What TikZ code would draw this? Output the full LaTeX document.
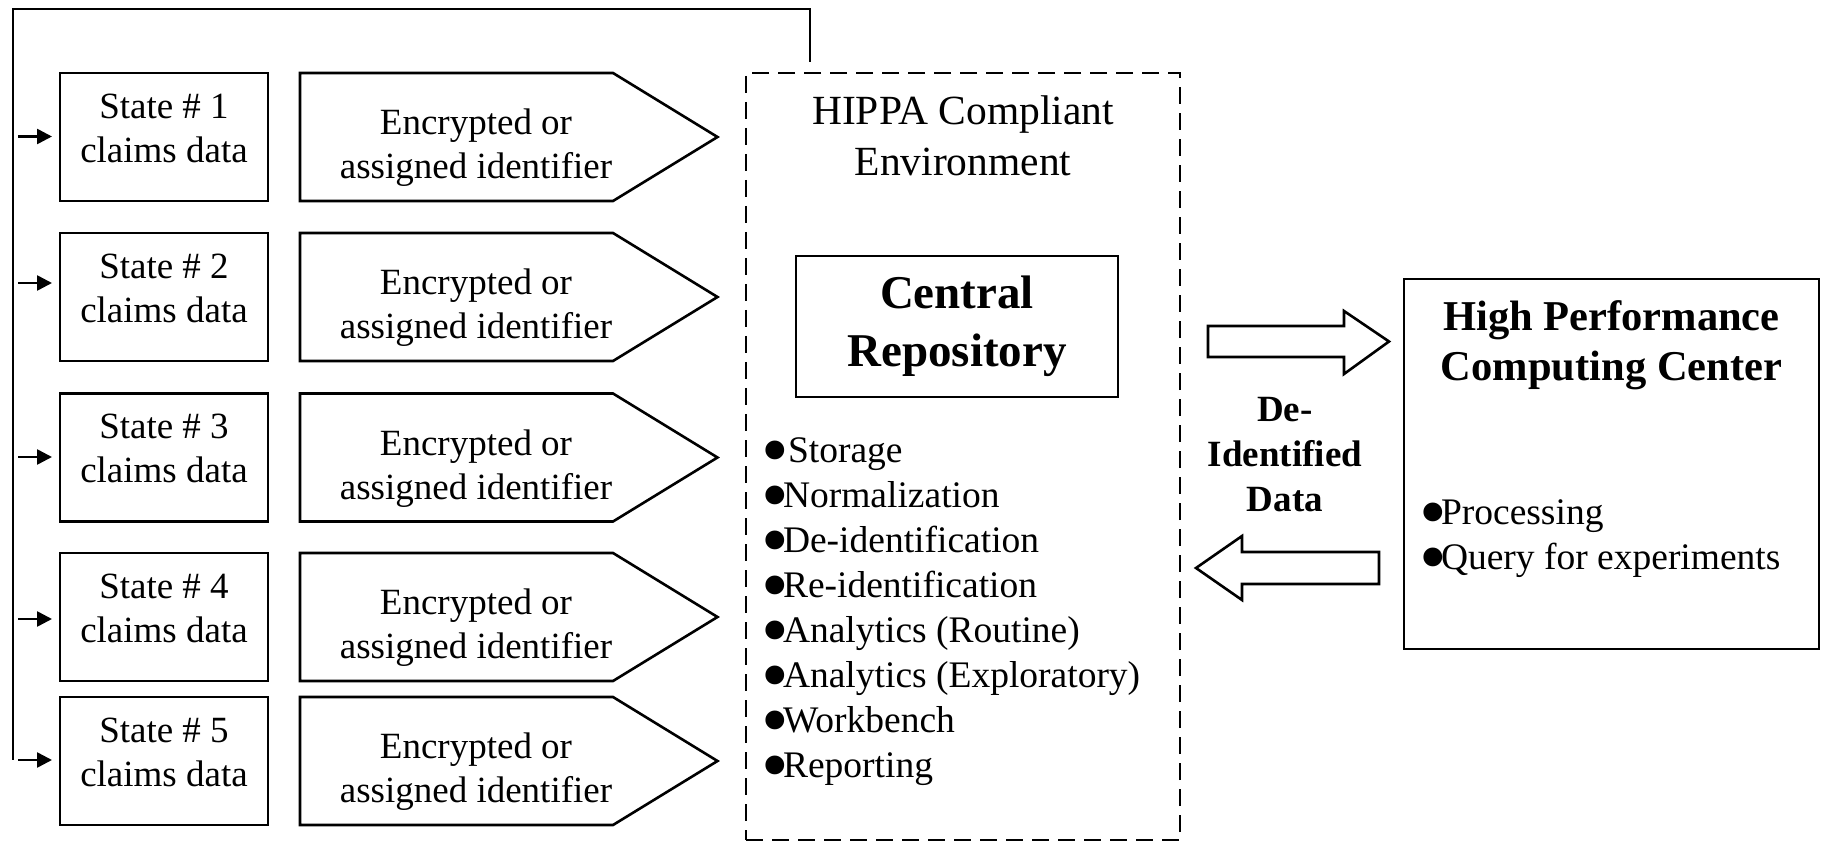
\documentclass[tikz,border=0pt]{standalone}
\usepackage{fontspec}
\usepackage{graphicx}
\setmainfont{Liberation Serif}
\usetikzlibrary{arrows.meta,calc}
\newcommand{\bigbul}{\makebox[16pt][c]{\raisebox{-14pt}[0pt][0pt]{\scalebox{2.1}{•}}}}
\begin{document}
\begin{tikzpicture}[x=1pt,y=-1pt,line join=miter,
  every node/.style={inner sep=0pt,outer sep=0pt},
  lw/.style={line width=2.6pt},
  statebox/.style={draw,lw,minimum width=208pt,minimum height=128pt},
  encbody/.style={minimum width=313pt,minimum height=128pt},
  normtext/.style={align=center,font=\fontsize{37}{44}\selectfont},
  listtext/.style={anchor=base west,font=\fontsize{37.5}{44}\selectfont},
  feedarrow/.style={line width=2.6pt,-{Triangle[length=15pt,width=15pt]},shorten >=8pt,shorten <=5pt},
  dashbox/.style={draw,lw,dash pattern=on 17pt off 9pt,minimum width=434pt,minimum height=767pt},
  blockarrow/.style={draw,lw,fill=white},
]
\useasboundingbox (0,0) rectangle (1821,842);

% feedback line
\coordinate (fbR) at (810,62);
\coordinate (fbRT) at (810,9);
\coordinate (fbLT) at (13,9);
\coordinate (fbLB) at (13,760);
\draw[lw] (fbR) -- (fbRT) -- (fbLT) -- (fbLB);

% rows
\foreach \i/\c/\a in {1/137/136.5,2/297/283,3/457.5/457,4/617/619,5/761/760} {
  \node[statebox] (s\i) at (164,\c) {};
  \node[normtext] (st\i) at ($(s\i.center)+(0,-9)$) {State \# \i\\claims data};
  \node[encbody] (e\i) at (456.5,\c) {};
  \draw[lw] (e\i.north west) -- (e\i.north east) -- ($(e\i.east)+(104.5,0)$) -- (e\i.south east) -- (e\i.south west) -- cycle;
  \node[normtext] (et\i) at ($(e\i.center)+(19.5,11)$) {Encrypted or\\assigned identifier};
  \coordinate (fa\i) at (13,\a);
  \draw[feedarrow] (fa\i) -- (s\i.west |- fa\i);
}

% HIPPA environment
\node[dashbox] (hip) at (963,456.5) {};
\node[align=center,font=\fontsize{41.5}{51}\selectfont] (hipt) at (963,135.4) {HIPPA Compliant\\Environment};
\node[draw,lw,minimum width=322pt,minimum height=141pt,align=center,font=\fontsize{47}{58}\selectfont\bfseries] (cr) at (957,326.5) {Central\\Repository};
\foreach \t [count=\k] in {\hspace{5pt}Storage,Normalization,De-identification,Re-identification,Analytics (Routine),Analytics (Exploratory),Workbench,Reporting} {
  \node[listtext] (cl\k) at (767,{417+45*\k}) {\bigbul\t};
}

% block arrows
\draw[blockarrow] (1208,326) -- (1344,326) -- (1344,311) -- (1389,341.5) -- (1344,374) -- (1344,357) -- (1208,357) -- cycle;
\draw[blockarrow] (1379,552) -- (1242,552) -- (1242,536) -- (1196,568) -- (1242,600) -- (1242,584) -- (1379,584) -- cycle;
\node[align=center,font=\fontsize{37}{45}\selectfont\bfseries] (did) at (1285,455) {De-\\Identified\\Data};

% HPC
\node[draw,lw,minimum width=415pt,minimum height=370pt] (hpc) at (1611.5,464) {};
\node[align=center,font=\fontsize{42.5}{50}\selectfont\bfseries] (hpct) at (1611.5,345) {High Performance\\Computing Center};
\node[listtext] (hb1) at (1425,524.5) {\bigbul Processing};
\node[listtext] (hb2) at (1425,569.5) {\bigbul Query for experiments};
\end{tikzpicture}
\end{document}
